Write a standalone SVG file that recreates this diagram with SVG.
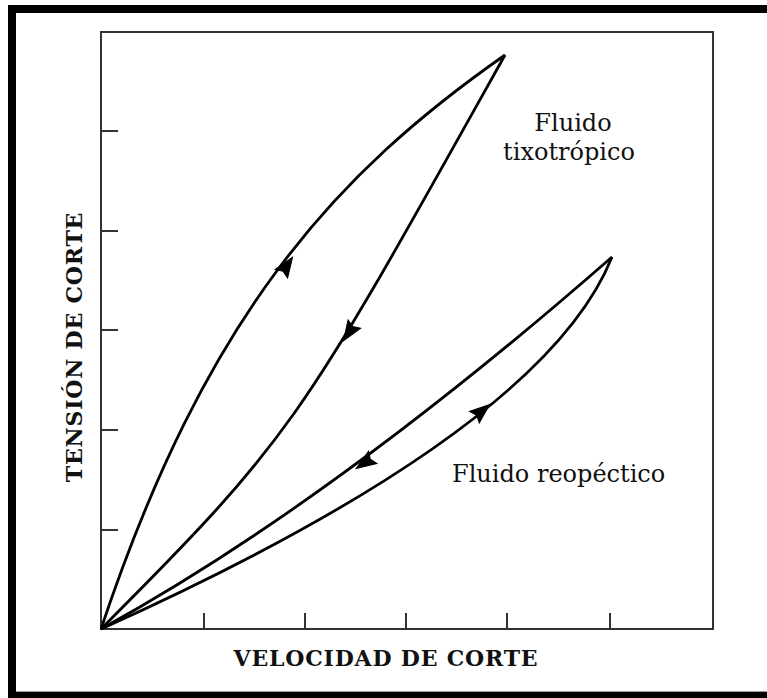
<svg xmlns="http://www.w3.org/2000/svg" width="767" height="698" viewBox="0 0 767 698">
<style>
.axis{fill:none;stroke:#333;stroke-width:2}
.tick{stroke:#333;stroke-width:2}
.curve{fill:none;stroke:#000;stroke-width:2.8;stroke-linejoin:round}
.lbl{font-family:"DejaVu Serif","Liberation Serif",serif;font-size:24px;fill:#111}
.ttl{font-family:"DejaVu Serif","Liberation Serif",serif;font-size:22px;font-weight:bold;letter-spacing:0.8px;fill:#111}
</style>
<defs>
<path id="ah" d="M1,0 L-19,-7.5 L-16,0 L-19,7.5 Z" fill="#000" stroke="#000" stroke-width="1" stroke-linejoin="miter"/>
</defs>
<rect x="0" y="0" width="767" height="698" fill="#fff"/>
<g id="frame">
<rect x="8" y="5" width="759" height="8" fill="#000"/>
<rect x="8" y="5" width="8" height="693" fill="#000"/>
<rect x="8" y="692" width="759" height="6" fill="#000"/>
<line x1="16" y1="691.5" x2="767" y2="691.5" stroke="#999" stroke-width="1"/>
</g>
<g id="axes">
<rect class="axis" x="101" y="32" width="612" height="597"/>
<line class="tick" x1="101" y1="131" x2="118" y2="131"/>
<line class="tick" x1="101" y1="231" x2="118" y2="231"/>
<line class="tick" x1="101" y1="330" x2="118" y2="330"/>
<line class="tick" x1="101" y1="430" x2="118" y2="430"/>
<line class="tick" x1="101" y1="530" x2="118" y2="530"/>
<line class="tick" x1="204" y1="629" x2="204" y2="613"/>
<line class="tick" x1="305" y1="629" x2="305" y2="613"/>
<line class="tick" x1="406" y1="629" x2="406" y2="613"/>
<line class="tick" x1="507" y1="629" x2="507" y2="613"/>
<line class="tick" x1="610" y1="629" x2="610" y2="613"/>
</g>
<g id="connectors">
<path id="thixo-up" class="curve" d="M101,629 C206,314 335,174 505,55"/>
<path id="thixo-down" class="curve" d="M505,55 C302,418 296,434 101,629"/>
<path id="reo-down" class="curve" d="M612,257 Q332,502 101,629"/>
<path id="reo-up" class="curve" d="M101,629 Q543,430 612,257"/>
<use href="#ah" transform="translate(292,258) rotate(-56)"/>
<use href="#ah" transform="translate(344,340) rotate(123)"/>
<use href="#ah" transform="translate(357,468) rotate(146)"/>
<use href="#ah" transform="translate(489,405) rotate(-40)"/>
</g>
<g id="label-thixo">
<text class="lbl" x="573" y="131" text-anchor="middle">Fluido</text>
<text class="lbl" x="569" y="160" text-anchor="middle">tixotrópico</text>
</g>
<g id="label-reo">
<text class="lbl" x="452" y="482">Fluido reopéctico</text>
</g>
<g id="x-title">
<text class="ttl" x="386" y="666" text-anchor="middle">VELOCIDAD DE CORTE</text>
</g>
<g id="y-title">
<text class="ttl" transform="translate(82,347) rotate(-90)" text-anchor="middle">TENSIÓN DE CORTE</text>
</g>
</svg>
